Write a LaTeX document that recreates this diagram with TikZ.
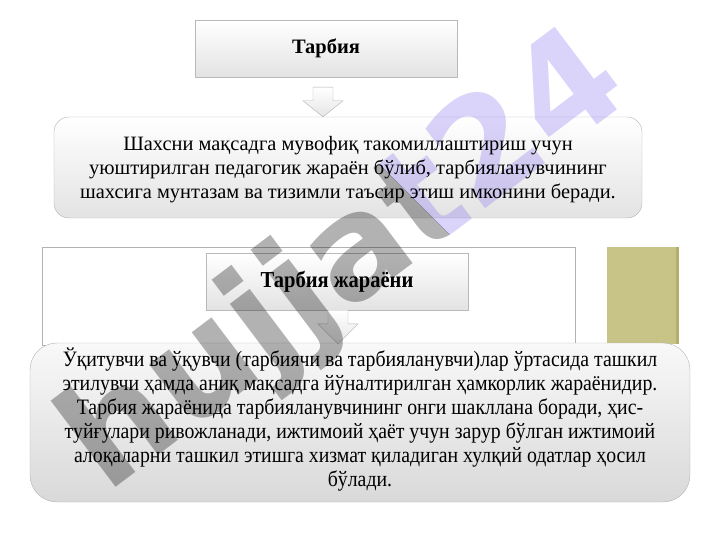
\documentclass[tikz,border=0pt]{standalone}
\usepackage{fontspec}
\setmainfont{Liberation Serif}
\newfontfamily\condfont[FakeStretch=0.9]{Liberation Serif}
\newfontfamily\wmfont{DejaVu Sans}
\usetikzlibrary{calc}
\definecolor{olivebox}{RGB}{200,196,135}
\definecolor{olivedark}{RGB}{180,175,110}
\definecolor{lavwm}{RGB}{150,128,240}
\pgfdeclarelayer{wm}
\pgfdeclarelayer{fg}
\pgfsetlayers{main,wm,fg}
\tikzset{
  titlebox/.style={draw=gray!55, top color=white, bottom color=gray!22, inner sep=0pt},
  infobox/.style={draw=gray!60, top color=white, bottom color=gray!22, inner sep=0pt},
  framebox/.style={draw=gray!60, fill=white, inner sep=0pt},
  olivenode/.style={fill=olivebox, inner sep=0pt},
  labeltext/.style={align=center, inner sep=0pt},
  blockarrow/.style={draw=gray!60, top color=white, bottom color=gray!20, line join=miter},
  wmtext/.style={font=\wmfont\bfseries\fontsize{142}{142}\selectfont, rotate=37, inner sep=0pt}
}
\begin{document}
\begin{tikzpicture}[x=1pt,y=-1pt]
\useasboundingbox (0,0) rectangle (720,540);
% box shapes
\node[titlebox, minimum width=262pt, minimum height=57pt] (b1) at (326,48.5) {};
\node[infobox, rounded corners=15pt, minimum width=588pt, minimum height=101pt] (b2) at (348,167.5) {};
\node[framebox, minimum width=533pt, minimum height=98pt] (fr) at (308.5,296) {};
\node[olivenode, minimum width=72pt, minimum height=97pt] (ol) at (643,295.5) {};
\draw[olivedark, line width=3pt] ($(ol.north east)+(-1.5pt,0)$) -- ($(ol.south east)+(-1.5pt,0)$);
\node[titlebox, minimum width=262pt, minimum height=57pt] (b3) at (337,281.5) {};
\node[infobox, rounded corners=27pt, minimum width=660pt, minimum height=159pt,
      top color=gray!5, bottom color=gray!30] (b4) at (360,422.5) {};
% block arrows
\path[blockarrow] let \p1=(b1.south), \p2=(b2.north) in
  ({\x1-13pt},{\y1-10pt}) -- ({\x1+7pt},{\y1-10pt}) -- ({\x1+7pt},{\y2+16pt})
  -- ({\x1+17pt},{\y2+16pt}) -- ({\x1-3pt},{\y2}) -- ({\x1-23pt},{\y2+16pt})
  -- ({\x1-13pt},{\y2+16pt}) -- cycle;
\path[blockarrow] let \p1=(b3.south), \p2=(b4.north) in
  ({\x1-9pt},{\y1}) -- ({\x1+11pt},{\y1}) -- ({\x1+11pt},{\y2+19pt})
  -- ({\x1+21pt},{\y2+19pt}) -- ({\x1+1pt},{\y2-1pt}) -- ({\x1-19pt},{\y2+19pt})
  -- ({\x1-9pt},{\y2+19pt}) -- cycle;
% texts
\begin{pgfonlayer}{fg}
\node[labeltext, font=\bfseries\fontsize{20.5}{24}\selectfont] (t1) at (b1.center) {Тарбия};
\node[labeltext, font=\fontsize{20.4}{23.8}\selectfont] (t2) at ($(b2.center)+(0,2)$)
  {Шахсни мақсадга мувофиқ такомиллаштириш учун\\
   уюштирилган педагогик жараён бўлиб, тарбияланувчининг\\
   шахсига мунтазам ва тизимли таъсир этиш имконини беради.};
\node[labeltext, font=\condfont\bfseries\fontsize{22.8}{26}\selectfont] (t3) at (b3.center) {Тарбия жараёни};
\node[labeltext, font=\condfont\fontsize{22}{24}\selectfont] (t4) at ($(b4.center)+(0,-3)$)
  {Ўқитувчи ва ўқувчи (тарбиячи ва тарбияланувчи)лар ўртасида ташкил\\
   этилувчи ҳамда аниқ мақсадга йўналтирилган ҳамкорлик жараёнидир.\\
   Тарбия жараёнида тарбияланувчининг онги шакллана боради, ҳис-\\
   туйғулари ривожланади, ижтимоий ҳаёт учун зарур бўлган ижтимоий\\
   алоқаларни ташкил этишга хизмат қиладиган хулқий одатлар ҳосил\\
   бўлади.};
\end{pgfonlayer}
% watermark
\begin{pgfonlayer}{wm}
\begin{scope}
  \clip (215,0) -- (720,0) -- (720,505) -- cycle;
  \node[wmtext, text=lavwm, text opacity=0.35] (wm1) at (347,265) {hujjat24};
\end{scope}
\begin{scope}
  \clip (0,0) -- (215,0) -- (720,505) -- (720,540) -- (0,540) -- cycle;
  \node[wmtext, text=black, text opacity=0.3] (wm2) at (347,265) {hujjat24};
\end{scope}
\end{pgfonlayer}
\end{tikzpicture}
\end{document}
